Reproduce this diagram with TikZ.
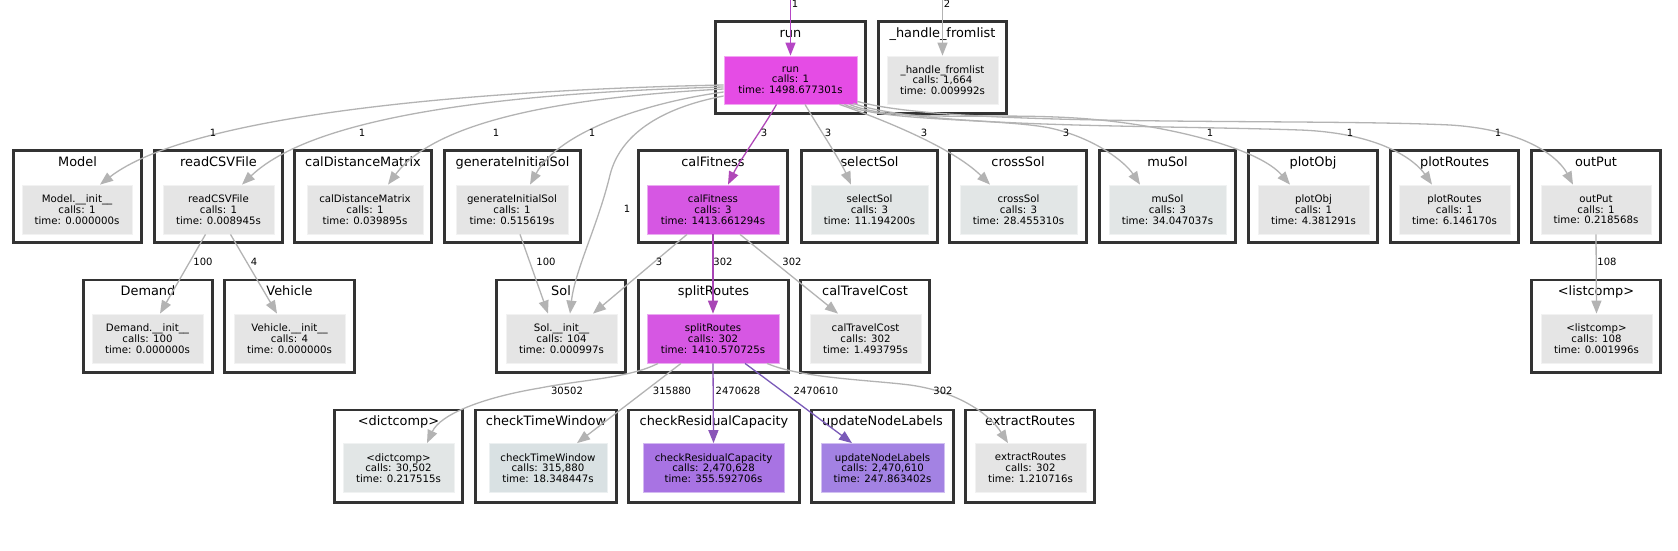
\documentclass[tikz,border=0pt]{standalone}
\usepackage{fontspec}
\setmainfont{DejaVu Sans}
\usetikzlibrary{arrows.meta}
\definecolor{clusterborder}{HTML}{333333}
\definecolor{gnode}{HTML}{E5E5E5}
\definecolor{gnodeb}{HTML}{E2E6E6}
\definecolor{gnodec}{HTML}{D9E1E3}
\definecolor{runcol}{HTML}{E54CE5}
\definecolor{fitcol}{HTML}{D657E3}
\definecolor{rescol}{HTML}{A873E3}
\definecolor{updcol}{HTML}{A382E3}
\definecolor{edgegray}{HTML}{B3B3B3}
\definecolor{pA}{HTML}{B546C5}
\definecolor{pB}{HTML}{B048B8}
\definecolor{pC}{HTML}{A845B5}
\definecolor{pD}{HTML}{8A55B8}
\definecolor{pE}{HTML}{7A5AB8}
\tikzset{
  clus/.style={draw=clusterborder, line width=2.6pt, fill=white, inner sep=0pt, minimum height=92.4pt},
  ctitle/.style={anchor=base, inner sep=0pt, font=\fontsize{12.9}{14}\selectfont},
  fn/.style={inner sep=0pt, minimum height=49pt, align=center, font=\fontsize{10.2}{10.7}\selectfont, line width=0.8pt},
  gfn/.style={fn, fill=#1, draw=#1!50!white},
  gfn/.default=gnode,
  elab/.style={inner sep=0pt, font=\fontsize{10}{12}\selectfont},
  gedge/.style={draw=edgegray, line width=1.3pt, -{Triangle[length=13pt,width=10pt]}},
  pedge/.style={gedge, draw=#1},
}
\begin{document}
\begin{tikzpicture}[x=1pt,y=-1pt]
\useasboundingbox (0,0) rectangle (1678,551);
% clusters
\node[clus, minimum width=150.4pt] (Crun) at (790.5,67.5) {};
\node[clus, minimum width=128.4pt] (Chandle) at (942.5,67.5) {};
\node[clus, minimum width=128.4pt] (Cmodel) at (77.5,196.5) {};
\node[clus, minimum width=128.4pt] (Creadcsv) at (218.5,196.5) {};
\node[clus, minimum width=137.4pt] (Ccaldist) at (363,196.5) {};
\node[clus, minimum width=136.4pt] (Cgeninit) at (512.5,196.5) {};
\node[clus, minimum width=149.4pt] (Ccalfit) at (713,196.5) {};
\node[clus, minimum width=136.4pt] (Cselectsol) at (869.5,196.5) {};
\node[clus, minimum width=137.4pt] (Ccrosssol) at (1018,196.5) {};
\node[clus, minimum width=136.4pt] (Cmusol) at (1167.5,196.5) {};
\node[clus, minimum width=129.4pt] (Cplotobj) at (1313,196.5) {};
\node[clus, minimum width=128.4pt] (Cplotroutes) at (1454.5,196.5) {};
\node[clus, minimum width=129.4pt] (Coutput) at (1596,196.5) {};
\node[clus, minimum width=129.4pt] (Cdemand) at (148,326) {};
\node[clus, minimum width=130.4pt] (Cvehicle) at (289.5,326) {};
\node[clus, minimum width=129.4pt] (Csol) at (561,326) {};
\node[clus, minimum width=150.4pt] (Csplit) at (713.5,326) {};
\node[clus, minimum width=129.4pt] (Ccaltravel) at (865,326) {};
\node[clus, minimum width=129.4pt] (Clistcomp) at (1596,326) {};
\node[clus, minimum width=128.4pt] (Cdictcomp) at (398.5,456) {};
\node[clus, minimum width=141.4pt] (Cchecktw) at (546,456) {};
\node[clus, minimum width=171.4pt] (Ccheckrc) at (714,456) {};
\node[clus, minimum width=142.4pt] (Cupdnl) at (882.5,456) {};
\node[clus, minimum width=129.4pt] (Cextract) at (1030,456) {};
% titles
\node[ctitle] (Trun) at (790.5,37.5) {run};
\node[ctitle] (Thandle) at (942.5,37.5) {\_handle\_fromlist};
\node[ctitle] (Tmodel) at (77.5,166.5) {Model};
\node[ctitle] (Treadcsv) at (218.5,166.5) {readCSVFile};
\node[ctitle] (Tcaldist) at (363,166.5) {calDistanceMatrix};
\node[ctitle] (Tgeninit) at (512.5,166.5) {generateInitialSol};
\node[ctitle] (Tcalfit) at (713,166.5) {calFitness};
\node[ctitle] (Tselectsol) at (869.5,166.5) {selectSol};
\node[ctitle] (Tcrosssol) at (1018,166.5) {crossSol};
\node[ctitle] (Tmusol) at (1167.5,166.5) {muSol};
\node[ctitle] (Tplotobj) at (1313,166.5) {plotObj};
\node[ctitle] (Tplotroutes) at (1454.5,166.5) {plotRoutes};
\node[ctitle] (Toutput) at (1596,166.5) {outPut};
\node[ctitle] (Tdemand) at (148,295.5) {Demand};
\node[ctitle] (Tvehicle) at (289.5,295.5) {Vehicle};
\node[ctitle] (Tsol) at (561,295.5) {Sol};
\node[ctitle] (Tsplit) at (713.5,295.5) {splitRoutes};
\node[ctitle] (Tcaltravel) at (865,295.5) {calTravelCost};
\node[ctitle] (Tlistcomp) at (1596,295.5) {<listcomp>};
\node[ctitle] (Tdictcomp) at (398.5,425.5) {<dictcomp>};
\node[ctitle] (Tchecktw) at (546,425.5) {checkTimeWindow};
\node[ctitle] (Tcheckrc) at (714,425.5) {checkResidualCapacity};
\node[ctitle] (Tupdnl) at (882.5,425.5) {updateNodeLabels};
\node[ctitle] (Textract) at (1030,425.5) {extractRoutes};
% function nodes
\node[gfn=runcol, minimum width=133pt, minimum height=48pt] (run) at (790.5,80) {run\\calls: 1\\time: 1498.677301s};
\node[gfn, minimum width=111pt, minimum height=48pt] (handle) at (942.5,80) {\_handle\_fromlist\\calls: 1,664\\time: 0.009992s};
\node[gfn, minimum width=110pt] (model) at (77,209.5) {Model.\_\_init\_\_\\calls: 1\\time: 0.000000s};
\node[gfn, minimum width=111pt] (readcsv) at (218.5,209.5) {readCSVFile\\calls: 1\\time: 0.008945s};
\node[gfn, minimum width=116pt] (caldist) at (365,209.5) {calDistanceMatrix\\calls: 1\\time: 0.039895s};
\node[gfn, minimum width=112pt] (geninit) at (512,209.5) {generateInitialSol\\calls: 1\\time: 0.515619s};
\node[gfn=fitcol, minimum width=132pt] (calfit) at (713,209.5) {calFitness\\calls: 3\\time: 1413.661294s};
\node[gfn=gnodeb, minimum width=117pt] (selectsol) at (869.5,209.5) {selectSol\\calls: 3\\time: 11.194200s};
\node[gfn=gnodeb, minimum width=117pt] (crosssol) at (1018.5,209.5) {crossSol\\calls: 3\\time: 28.455310s};
\node[gfn=gnodeb, minimum width=117pt] (musol) at (1167.5,209.5) {muSol\\calls: 3\\time: 34.047037s};
\node[gfn, minimum width=111pt] (plotobj) at (1313.5,209.5) {plotObj\\calls: 1\\time: 4.381291s};
\node[gfn, minimum width=111pt] (plotroutes) at (1454.5,209.5) {plotRoutes\\calls: 1\\time: 6.146170s};
\node[gfn, minimum width=110pt] (output) at (1596,209.5) {outPut\\calls: 1\\time: 0.218568s};
\node[gfn, minimum width=111pt] (demand) at (147.5,338.5) {Demand.\_\_init\_\_\\calls: 100\\time: 0.000000s};
\node[gfn, minimum width=111pt] (vehicle) at (289.5,338.5) {Vehicle.\_\_init\_\_\\calls: 4\\time: 0.000000s};
\node[gfn, minimum width=111pt] (sol) at (561.5,338.5) {Sol.\_\_init\_\_\\calls: 104\\time: 0.000997s};
\node[gfn=fitcol, minimum width=132pt] (split) at (713,338.5) {splitRoutes\\calls: 302\\time: 1410.570725s};
\node[gfn, minimum width=111pt] (caltravel) at (865.5,338.5) {calTravelCost\\calls: 302\\time: 1.493795s};
\node[gfn, minimum width=111pt] (listcomp) at (1596.5,338.5) {<listcomp>\\calls: 108\\time: 0.001996s};
\node[gfn=gnodeb, minimum width=111pt] (dictcomp) at (398.5,468) {<dictcomp>\\calls: 30,502\\time: 0.217515s};
\node[gfn=gnodec, minimum width=118pt] (checktw) at (548,468) {checkTimeWindow\\calls: 315,880\\time: 18.348447s};
\node[gfn=rescol, minimum width=141pt] (checkrc) at (713.5,468) {checkResidualCapacity\\calls: 2,470,628\\time: 355.592706s};
\node[gfn=updcol, minimum width=123pt] (updnl) at (882.5,468) {updateNodeLabels\\calls: 2,470,610\\time: 247.863402s};
\node[gfn, minimum width=111pt] (extract) at (1030.5,468) {extractRoutes\\calls: 302\\time: 1.210716s};
% free ends at top
\coordinate (in1) at (790.5,0);
\coordinate (in2) at (942.5,0);
% edges
\draw[pedge=pA] (in1) -- (run.north);
\draw[gedge] (in2) -- (handle.north);
\draw[gedge] ([yshift=-5pt]run.west) .. controls (470,90) and (190,115) .. ([xshift=23pt]model.north);
\draw[gedge] ([yshift=-7pt]run.west) .. controls (540,92) and (320,110) .. ([xshift=23.5pt]readcsv.north);
\draw[gedge] ([yshift=-9pt]run.west) .. controls (590,96) and (440,115) .. ([xshift=23pt]caldist.north);
\draw[gedge] ([yshift=-12pt]run.west) .. controls (650,102) and (560,130) .. ([xshift=18pt]geninit.north);
\draw[gedge] ([yshift=-16pt]run.west) .. controls (660,108) and (620,135) .. (610,175) .. controls (598,225) and (575,270) .. ([xshift=8.5pt]sol.north);
\draw[pedge=pB] ([xshift=-14pt]run.south) .. controls (765,125) and (740,160) .. ([xshift=15pt]calfit.north);
\draw[gedge] ([xshift=14.5pt]run.south) .. controls (820,130) and (840,160) .. ([xshift=-18.5pt]selectsol.north);
\draw[gedge] ([xshift=-18pt]run.south east) .. controls (870,115) and (950,145) .. ([xshift=-28.5pt]crosssol.north);
\draw[gedge] ([xshift=-13pt]run.south east) .. controls (880,122) and (1000,118) .. (1050,128) .. controls (1095,138) and (1125,162) .. ([xshift=-27.5pt]musol.north);
\draw[gedge] ([xshift=-8pt]run.south east) .. controls (900,125) and (1000,110) .. (1100,120) .. controls (1180,128) and (1260,150) .. ([xshift=-23.5pt]plotobj.north);
\draw[gedge] ([xshift=-4pt,yshift=1pt]run.south east) .. controls (920,128) and (1150,125) .. (1300,130) .. controls (1380,133) and (1415,160) .. ([xshift=-22.5pt]plotroutes.north);
\draw[gedge] ([yshift=3pt]run.south east) .. controls (950,128) and (1300,118) .. (1450,125) .. controls (1530,130) and (1560,160) .. ([xshift=-23pt]output.north);
\draw[gedge] ([xshift=-13pt]readcsv.south) -- ([xshift=12.5pt]demand.north);
\draw[gedge] ([xshift=12pt]readcsv.south) -- ([xshift=-12.5pt]vehicle.north);
\draw[gedge] ([xshift=8pt]geninit.south) -- ([xshift=-13.5pt]sol.north);
\draw[gedge] ([xshift=-26pt]calfit.south) -- ([xshift=31.5pt]sol.north);
\draw[pedge=pC] (calfit.south) -- (split.north);
\draw[gedge] ([xshift=27pt]calfit.south) -- ([xshift=-27.5pt]caltravel.north);
\draw[gedge] (output.south) -- (listcomp.north);
\draw[gedge] ([xshift=-55pt]split.south) .. controls (630,378) and (580,380) .. (540,388) .. controls (480,398) and (440,415) .. ([xshift=28.5pt]dictcomp.north);
\draw[gedge] ([xshift=-32pt]split.south) -- ([xshift=29pt]checktw.north);
\draw[pedge=pD] (split.south) -- (checkrc.north);
\draw[pedge=pE] ([xshift=32pt]split.south) -- ([xshift=-30.5pt]updnl.north);
\draw[gedge] ([xshift=54pt]split.south) .. controls (800,378) and (870,380) .. (910,385) .. controls (960,392) and (990,415) .. ([xshift=-22.5pt]extract.north);
% edge labels
\node[elab] (L1) at (795,4) {1};
\node[elab] (L2) at (947,4) {2};
\node[elab] (L3) at (213,133) {1};
\node[elab] (L4) at (362,133) {1};
\node[elab] (L5) at (496,133) {1};
\node[elab] (L6) at (592,133) {1};
\node[elab] (L7) at (627,209) {1};
\node[elab] (L8) at (764,133) {3};
\node[elab] (L9) at (828,133) {3};
\node[elab] (L10) at (924,133) {3};
\node[elab] (L11) at (1066,133) {3};
\node[elab] (L12) at (1210,133) {1};
\node[elab] (L13) at (1350,133) {1};
\node[elab] (L14) at (1498,133) {1};
\node[elab] (L15) at (203,262) {100};
\node[elab] (L16) at (254,262) {4};
\node[elab] (L17) at (546,262) {100};
\node[elab] (L18) at (659,262) {3};
\node[elab] (L19) at (723,262) {302};
\node[elab] (L20) at (792,262) {302};
\node[elab] (L21) at (1607,262) {108};
\node[elab] (L22) at (567,391) {30502};
\node[elab] (L23) at (672,391) {315880};
\node[elab] (L24) at (738,391) {2470628};
\node[elab] (L25) at (816,391) {2470610};
\node[elab] (L26) at (943,391) {302};
\end{tikzpicture}
\end{document}
